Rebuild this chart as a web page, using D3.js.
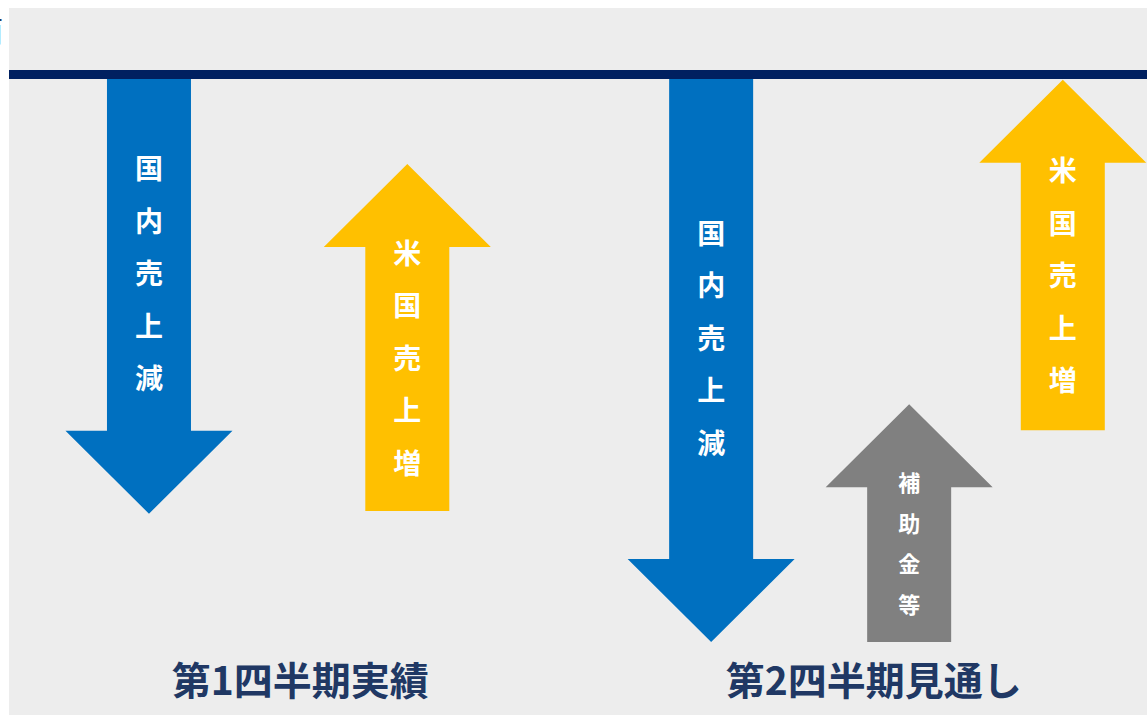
<!DOCTYPE html>
<html>
<head>
<meta charset="utf-8">
<script src="https://cdn.jsdelivr.net/npm/d3@7"></script>
<style>
body{margin:0;background:#fff;}
svg{display:block;}
</style>
</head>
<body>
<svg width="1147" height="715"></svg>
<script>
// arrows: start value -> end value (0 = top line, -100 = lowest point)
var labels   = ["国内売上減","米国売上増","国内売上減","補助金等","米国売上増"];
var slot     = [12.3, 35.0, 61.7, 79.1, 92.6];   // horizontal slot of each arrow
var startVal = [0, -76.8, 0, -100, -62.5];
var endVal   = [-77.3, -15.4, -100, -57.9, -0.5];
var kind     = ["down","up","down","other","up"];
var groups   = ["第1四半期実績","第2四半期見通し"];
var groupSlot= [25.6, 76.0];

var W=1147,H=715;
var svg=d3.select("svg");
var colors={down:"#0070c0",up:"#ffc000",other:"#808080"};

var x=d3.scaleLinear().domain([0,100]).range([9,1147]);
var y=d3.scaleLinear().domain([0,-100]).range([77,642]);

svg.append("rect").attr("x",9).attr("y",8).attr("width",W-9).attr("height",H-8).attr("fill","#ededed");
// text clipped by the page edge, as in the original
svg.append("text").attr("x",3).attr("y",42).attr("text-anchor","end")
	.attr("font-family","Noto Sans CJK JP").attr("font-size",29).attr("fill","#203864").text("面");

var data=d3.range(0,labels.length).map(function(i){
	return {label:labels[i],cx:x(slot[i]),y0:y(startVal[i]),y1:y(endVal[i]),kind:kind[i]};
});

var sw=84, hw=167, hh=83; // shaft width, head width, head height
function arrowPath(d){
	var dir=d.y1>d.y0?1:-1, b=d.y1-dir*hh;
	return "M"+(d.cx-sw/2)+","+d.y0+"L"+(d.cx+sw/2)+","+d.y0+"L"+(d.cx+sw/2)+","+b
		+"L"+(d.cx+hw/2)+","+b+"L"+d.cx+","+d.y1+"L"+(d.cx-hw/2)+","+b
		+"L"+(d.cx-sw/2)+","+b+"Z";
}

var g=svg.selectAll("g.arrow").data(data).enter().append("g").attr("class","arrow");
g.append("path").attr("d",arrowPath).attr("fill",function(d){return colors[d.kind];});

g.each(function(d){
	var chars=d.label.split(""), small=d.kind=="other";
	var step=small?40.5:52.5, fs=small?22:28;
	var dir=d.y1>d.y0?1:-1;
	var mid=(d.y0+d.y1)/2-dir*21;
	var first=mid-step*(chars.length-1)/2;
	d3.select(this).selectAll("text").data(chars).enter().append("text")
		.attr("x",d.cx).attr("y",function(c,k){return first+k*step;})
		.attr("dy","0.36em").attr("text-anchor","middle")
		.attr("font-family","Noto Sans CJK JP").attr("font-weight","bold")
		.attr("font-size",fs).attr("fill","#fff").text(function(c){return c;});
});

// top line
svg.append("line").attr("x1",9).attr("x2",W).attr("y1",74.5).attr("y2",74.5)
	.attr("stroke","#002060").attr("stroke-width",9);

svg.selectAll("text.grp").data(groups).enter().append("text").attr("class","grp")
	.attr("x",function(d,i){return x(groupSlot[i]);}).attr("y",681).attr("dy","0.36em")
	.attr("text-anchor","middle").attr("font-family","Noto Sans CJK JP").attr("font-weight","bold")
	.attr("font-size",39).attr("fill","#203864").text(function(d){return d;});
</script>
</body>
</html>
